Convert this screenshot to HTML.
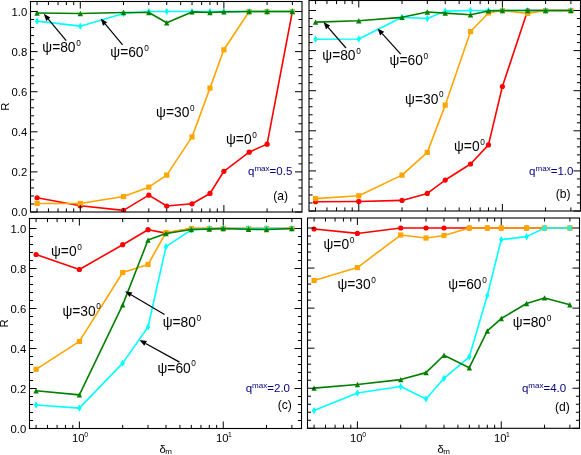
<!DOCTYPE html>
<html><head><meta charset="utf-8"><title>R vs delta_m</title>
<style>
html,body{margin:0;padding:0;background:#fff;}
body{width:581px;height:455px;overflow:hidden;}
svg{display:block;font-family:"Liberation Sans",sans-serif;will-change:transform;}

</style></head><body>
<svg width="581" height="455" viewBox="0 0 581 455">
<defs><clipPath id="clipa"><rect x="30.5" y="1.5" width="271.5" height="210.5"/></clipPath><clipPath id="clipb"><rect x="309" y="0.5" width="271.5" height="210.5"/></clipPath><clipPath id="clipc"><rect x="29.5" y="218.5" width="272" height="210"/></clipPath><clipPath id="clipd"><rect x="307.5" y="218" width="272" height="210.3"/></clipPath></defs>
<rect width="581" height="455" fill="#fff"/>
<g clip-path="url(#clipa)">
<polyline fill="none" stroke="#ff0000" stroke-width="1.6" stroke-linejoin="round" points="37.07,197.77 80.29,205.79 123.52,210.4 148.8,195.16 166.74,205.99 192.03,203.78 209.96,193.46 223.88,171.3 249.16,152.16 267.1,144.14 292.39,11.52"/>
<circle cx="37.07" cy="197.77" r="2.6" fill="#ff0000"/>
<circle cx="80.29" cy="205.79" r="2.6" fill="#ff0000"/>
<circle cx="123.52" cy="210.4" r="2.6" fill="#ff0000"/>
<circle cx="148.8" cy="195.16" r="2.6" fill="#ff0000"/>
<circle cx="166.74" cy="205.99" r="2.6" fill="#ff0000"/>
<circle cx="192.03" cy="203.78" r="2.6" fill="#ff0000"/>
<circle cx="209.96" cy="193.46" r="2.6" fill="#ff0000"/>
<circle cx="223.88" cy="171.3" r="2.6" fill="#ff0000"/>
<circle cx="249.16" cy="152.16" r="2.6" fill="#ff0000"/>
<circle cx="267.1" cy="144.14" r="2.6" fill="#ff0000"/>
<circle cx="292.39" cy="11.52" r="2.6" fill="#ff0000"/>
<polyline fill="none" stroke="#ffa500" stroke-width="1.6" stroke-linejoin="round" points="37.07,203.48 80.29,203.48 123.52,196.56 148.8,187.14 166.74,175.11 192.03,136.92 209.96,88.11 223.88,49.81 249.16,11.52 267.1,11.52 292.39,11.52"/>
<rect x="34.47" y="200.88" width="5.2" height="5.2" fill="#ffa500"/>
<rect x="77.69" y="200.88" width="5.2" height="5.2" fill="#ffa500"/>
<rect x="120.92" y="193.96" width="5.2" height="5.2" fill="#ffa500"/>
<rect x="146.2" y="184.54" width="5.2" height="5.2" fill="#ffa500"/>
<rect x="164.14" y="172.51" width="5.2" height="5.2" fill="#ffa500"/>
<rect x="189.43" y="134.32" width="5.2" height="5.2" fill="#ffa500"/>
<rect x="207.36" y="85.51" width="5.2" height="5.2" fill="#ffa500"/>
<rect x="221.28" y="47.21" width="5.2" height="5.2" fill="#ffa500"/>
<rect x="246.56" y="8.92" width="5.2" height="5.2" fill="#ffa500"/>
<rect x="264.5" y="8.92" width="5.2" height="5.2" fill="#ffa500"/>
<rect x="289.79" y="8.92" width="5.2" height="5.2" fill="#ffa500"/>
<polyline fill="none" stroke="#00ffff" stroke-width="1.6" stroke-linejoin="round" points="37.07,21.15 80.29,26.16 123.52,13.53 148.8,11.52 166.74,11.52 192.03,11.52 209.96,11.52 223.88,11.52 249.16,11.52 267.1,11.52 292.39,11.52"/>
<polygon fill="#00ffff" points="37.07,17.55 39.27,21.15 37.07,24.75 34.87,21.15"/>
<polygon fill="#00ffff" points="80.29,22.56 82.49,26.16 80.29,29.76 78.09,26.16"/>
<polygon fill="#00ffff" points="123.52,9.93 125.72,13.53 123.52,17.13 121.32,13.53"/>
<polygon fill="#00ffff" points="148.8,7.92 151,11.52 148.8,15.12 146.6,11.52"/>
<polygon fill="#00ffff" points="166.74,7.92 168.94,11.52 166.74,15.12 164.54,11.52"/>
<polygon fill="#00ffff" points="192.03,7.92 194.23,11.52 192.03,15.12 189.83,11.52"/>
<polygon fill="#00ffff" points="209.96,7.92 212.16,11.52 209.96,15.12 207.76,11.52"/>
<polygon fill="#00ffff" points="223.88,7.92 226.08,11.52 223.88,15.12 221.68,11.52"/>
<polygon fill="#00ffff" points="249.16,7.92 251.36,11.52 249.16,15.12 246.96,11.52"/>
<polygon fill="#00ffff" points="267.1,7.92 269.3,11.52 267.1,15.12 264.9,11.52"/>
<polygon fill="#00ffff" points="292.39,7.92 294.59,11.52 292.39,15.12 290.19,11.52"/>
<polyline fill="none" stroke="#008000" stroke-width="1.6" stroke-linejoin="round" points="37.07,12.93 80.29,13.53 123.52,12.43 148.8,12.53 166.74,22.75 192.03,11.92 209.96,12.43 223.88,11.92 249.16,11.52 267.1,11.52 292.39,11.52"/>
<polygon fill="#008000" points="37.07,10.23 39.77,15.63 34.37,15.63"/>
<polygon fill="#008000" points="80.29,10.83 82.99,16.23 77.59,16.23"/>
<polygon fill="#008000" points="123.52,9.73 126.22,15.13 120.82,15.13"/>
<polygon fill="#008000" points="148.8,9.83 151.5,15.23 146.1,15.23"/>
<polygon fill="#008000" points="166.74,20.05 169.44,25.45 164.04,25.45"/>
<polygon fill="#008000" points="192.03,9.22 194.73,14.62 189.33,14.62"/>
<polygon fill="#008000" points="209.96,9.73 212.66,15.13 207.26,15.13"/>
<polygon fill="#008000" points="223.88,9.22 226.58,14.62 221.18,14.62"/>
<polygon fill="#008000" points="249.16,8.82 251.86,14.22 246.46,14.22"/>
<polygon fill="#008000" points="267.1,8.82 269.8,14.22 264.4,14.22"/>
<polygon fill="#008000" points="292.39,8.82 295.09,14.22 289.69,14.22"/>
</g>
<path d="M30.5,212h7M302,212h-7M30.5,203.98h3.6M302,203.98h-3.6M30.5,195.96h3.6M302,195.96h-3.6M30.5,187.94h3.6M302,187.94h-3.6M30.5,179.92h3.6M302,179.92h-3.6M30.5,171.9h7M302,171.9h-7M30.5,163.89h3.6M302,163.89h-3.6M30.5,155.87h3.6M302,155.87h-3.6M30.5,147.85h3.6M302,147.85h-3.6M30.5,139.83h3.6M302,139.83h-3.6M30.5,131.81h7M302,131.81h-7M30.5,123.79h3.6M302,123.79h-3.6M30.5,115.77h3.6M302,115.77h-3.6M30.5,107.75h3.6M302,107.75h-3.6M30.5,99.73h3.6M302,99.73h-3.6M30.5,91.71h7M302,91.71h-7M30.5,83.7h3.6M302,83.7h-3.6M30.5,75.68h3.6M302,75.68h-3.6M30.5,67.66h3.6M302,67.66h-3.6M30.5,59.64h3.6M302,59.64h-3.6M30.5,51.62h7M302,51.62h-7M30.5,43.6h3.6M302,43.6h-3.6M30.5,35.58h3.6M302,35.58h-3.6M30.5,27.56h3.6M302,27.56h-3.6M30.5,19.54h3.6M302,19.54h-3.6M30.5,11.52h7M302,11.52h-7M80.29,212v-7M80.29,1.5v7M223.88,212v-7M223.88,1.5v7M37.07,212v-3.6M37.07,1.5v3.6M48.44,212v-3.6M48.44,1.5v3.6M58.05,212v-3.6M58.05,1.5v3.6M66.38,212v-3.6M66.38,1.5v3.6M73.72,212v-3.6M73.72,1.5v3.6M123.52,212v-3.6M123.52,1.5v3.6M148.8,212v-3.6M148.8,1.5v3.6M166.74,212v-3.6M166.74,1.5v3.6M180.66,212v-3.6M180.66,1.5v3.6M192.03,212v-3.6M192.03,1.5v3.6M201.64,212v-3.6M201.64,1.5v3.6M209.96,212v-3.6M209.96,1.5v3.6M217.31,212v-3.6M217.31,1.5v3.6M267.1,212v-3.6M267.1,1.5v3.6M292.39,212v-3.6M292.39,1.5v3.6" stroke="#000" stroke-width="1" fill="none"/>
<rect x="30.5" y="1.5" width="271.5" height="210.5" fill="none" stroke="#000" stroke-width="1.1"/>
<text x="27.2" y="216.05" font-size="11.3" text-anchor="end">0.0</text>
<text x="27.2" y="175.95" font-size="11.3" text-anchor="end">0.2</text>
<text x="27.2" y="135.86" font-size="11.3" text-anchor="end">0.4</text>
<text x="27.2" y="95.76" font-size="11.3" text-anchor="end">0.6</text>
<text x="27.2" y="55.67" font-size="11.3" text-anchor="end">0.8</text>
<text x="27.2" y="15.57" font-size="11.3" text-anchor="end">1.0</text>
<text transform="translate(8.8,106.75) rotate(-90)" font-size="11.3" text-anchor="middle">R</text>
<line x1="66.2" y1="40.6" x2="48.29" y2="19.17" stroke="#000" stroke-width="1.2"/>
<polygon points="43.8,13.8 50.36,17.44 46.22,20.9" fill="#000"/>
<line x1="122.6" y1="44.8" x2="105.1" y2="23.96" stroke="#000" stroke-width="1.2"/>
<polygon points="100.6,18.6 107.17,22.22 103.03,25.7" fill="#000"/>
<text x="42.3" y="52.1" font-size="13.8" fill="#000">ψ=80<tspan dx="0.6" dy="-6.4" font-size="8.28">0</tspan></text>
<text x="110.3" y="57.3" font-size="13.8" fill="#000">ψ=60<tspan dx="0.6" dy="-6.4" font-size="8.28">0</tspan></text>
<text x="156.1" y="116.9" font-size="13.8" fill="#000">ψ=30<tspan dx="0.6" dy="-6.4" font-size="8.28">0</tspan></text>
<text x="226" y="144.2" font-size="13.8" fill="#000">ψ=0<tspan dx="0.6" dy="-6.4" font-size="8.28">0</tspan></text>
<text x="248" y="175.4" font-size="11.5" fill="#000080">q<tspan dy="-4.2" font-size="8.05">max</tspan><tspan dy="4.2" font-size="11.5">=0.5</tspan></text>
<text x="273.3" y="199.8" font-size="12.1">(a)</text>
<g clip-path="url(#clipb)">
<polyline fill="none" stroke="#ff0000" stroke-width="1.6" stroke-linejoin="round" points="315.57,201.7 358.79,201.46 402.02,200.41 427.3,193.44 445.24,180.03 470.53,164.01 488.46,144.9 502.38,86.5 527.66,10.52 545.6,10.52 570.89,10.52"/>
<circle cx="315.57" cy="201.7" r="2.6" fill="#ff0000"/>
<circle cx="358.79" cy="201.46" r="2.6" fill="#ff0000"/>
<circle cx="402.02" cy="200.41" r="2.6" fill="#ff0000"/>
<circle cx="427.3" cy="193.44" r="2.6" fill="#ff0000"/>
<circle cx="445.24" cy="180.03" r="2.6" fill="#ff0000"/>
<circle cx="470.53" cy="164.01" r="2.6" fill="#ff0000"/>
<circle cx="488.46" cy="144.9" r="2.6" fill="#ff0000"/>
<circle cx="502.38" cy="86.5" r="2.6" fill="#ff0000"/>
<circle cx="527.66" cy="10.52" r="2.6" fill="#ff0000"/>
<circle cx="545.6" cy="10.52" r="2.6" fill="#ff0000"/>
<circle cx="570.89" cy="10.52" r="2.6" fill="#ff0000"/>
<polyline fill="none" stroke="#ffa500" stroke-width="1.6" stroke-linejoin="round" points="315.57,198.61 358.79,195.76 402.02,175.11 427.3,152.4 445.24,105.15 470.53,31.57 488.46,12.93 502.38,10.52 527.66,13.43 545.6,10.52 570.89,10.52"/>
<rect x="312.97" y="196.01" width="5.2" height="5.2" fill="#ffa500"/>
<rect x="356.19" y="193.16" width="5.2" height="5.2" fill="#ffa500"/>
<rect x="399.42" y="172.51" width="5.2" height="5.2" fill="#ffa500"/>
<rect x="424.7" y="149.8" width="5.2" height="5.2" fill="#ffa500"/>
<rect x="442.64" y="102.55" width="5.2" height="5.2" fill="#ffa500"/>
<rect x="467.93" y="28.97" width="5.2" height="5.2" fill="#ffa500"/>
<rect x="485.86" y="10.33" width="5.2" height="5.2" fill="#ffa500"/>
<rect x="499.78" y="7.92" width="5.2" height="5.2" fill="#ffa500"/>
<rect x="525.06" y="10.83" width="5.2" height="5.2" fill="#ffa500"/>
<rect x="543" y="7.92" width="5.2" height="5.2" fill="#ffa500"/>
<rect x="568.29" y="7.92" width="5.2" height="5.2" fill="#ffa500"/>
<polyline fill="none" stroke="#00ffff" stroke-width="1.6" stroke-linejoin="round" points="315.57,39.19 358.79,38.99 402.02,17.34 427.3,18.54 445.24,11.13 470.53,10.52 488.46,10.52 502.38,10.52 527.66,10.52 545.6,10.52 570.89,10.52"/>
<polygon fill="#00ffff" points="315.57,35.59 317.77,39.19 315.57,42.79 313.37,39.19"/>
<polygon fill="#00ffff" points="358.79,35.39 360.99,38.99 358.79,42.59 356.59,38.99"/>
<polygon fill="#00ffff" points="402.02,13.74 404.22,17.34 402.02,20.94 399.82,17.34"/>
<polygon fill="#00ffff" points="427.3,14.94 429.5,18.54 427.3,22.14 425.1,18.54"/>
<polygon fill="#00ffff" points="445.24,7.53 447.44,11.13 445.24,14.73 443.04,11.13"/>
<polygon fill="#00ffff" points="470.53,6.92 472.73,10.52 470.53,14.12 468.33,10.52"/>
<polygon fill="#00ffff" points="488.46,6.92 490.66,10.52 488.46,14.12 486.26,10.52"/>
<polygon fill="#00ffff" points="502.38,6.92 504.58,10.52 502.38,14.12 500.18,10.52"/>
<polygon fill="#00ffff" points="527.66,6.92 529.86,10.52 527.66,14.12 525.46,10.52"/>
<polygon fill="#00ffff" points="545.6,6.92 547.8,10.52 545.6,14.12 543.4,10.52"/>
<polygon fill="#00ffff" points="570.89,6.92 573.09,10.52 570.89,14.12 568.69,10.52"/>
<polyline fill="none" stroke="#008000" stroke-width="1.6" stroke-linejoin="round" points="315.57,22.15 358.79,20.75 402.02,17.34 427.3,11.93 445.24,13.13 470.53,14.73 488.46,10.92 502.38,10.52 527.66,10.52 545.6,10.52 570.89,10.52"/>
<polygon fill="#008000" points="315.57,19.45 318.27,24.85 312.87,24.85"/>
<polygon fill="#008000" points="358.79,18.05 361.49,23.45 356.09,23.45"/>
<polygon fill="#008000" points="402.02,14.64 404.72,20.04 399.32,20.04"/>
<polygon fill="#008000" points="427.3,9.23 430,14.63 424.6,14.63"/>
<polygon fill="#008000" points="445.24,10.43 447.94,15.83 442.54,15.83"/>
<polygon fill="#008000" points="470.53,12.03 473.23,17.43 467.83,17.43"/>
<polygon fill="#008000" points="488.46,8.22 491.16,13.62 485.76,13.62"/>
<polygon fill="#008000" points="502.38,7.82 505.08,13.22 499.68,13.22"/>
<polygon fill="#008000" points="527.66,7.82 530.36,13.22 524.96,13.22"/>
<polygon fill="#008000" points="545.6,7.82 548.3,13.22 542.9,13.22"/>
<polygon fill="#008000" points="570.89,7.82 573.59,13.22 568.19,13.22"/>
</g>
<path d="M309,211h7M580.5,211h-7M309,202.98h3.6M580.5,202.98h-3.6M309,194.96h3.6M580.5,194.96h-3.6M309,186.94h3.6M580.5,186.94h-3.6M309,178.92h3.6M580.5,178.92h-3.6M309,170.9h7M580.5,170.9h-7M309,162.89h3.6M580.5,162.89h-3.6M309,154.87h3.6M580.5,154.87h-3.6M309,146.85h3.6M580.5,146.85h-3.6M309,138.83h3.6M580.5,138.83h-3.6M309,130.81h7M580.5,130.81h-7M309,122.79h3.6M580.5,122.79h-3.6M309,114.77h3.6M580.5,114.77h-3.6M309,106.75h3.6M580.5,106.75h-3.6M309,98.73h3.6M580.5,98.73h-3.6M309,90.71h7M580.5,90.71h-7M309,82.7h3.6M580.5,82.7h-3.6M309,74.68h3.6M580.5,74.68h-3.6M309,66.66h3.6M580.5,66.66h-3.6M309,58.64h3.6M580.5,58.64h-3.6M309,50.62h7M580.5,50.62h-7M309,42.6h3.6M580.5,42.6h-3.6M309,34.58h3.6M580.5,34.58h-3.6M309,26.56h3.6M580.5,26.56h-3.6M309,18.54h3.6M580.5,18.54h-3.6M309,10.52h7M580.5,10.52h-7M358.79,211v-7M358.79,0.5v7M502.38,211v-7M502.38,0.5v7M315.57,211v-3.6M315.57,0.5v3.6M326.94,211v-3.6M326.94,0.5v3.6M336.55,211v-3.6M336.55,0.5v3.6M344.88,211v-3.6M344.88,0.5v3.6M352.22,211v-3.6M352.22,0.5v3.6M402.02,211v-3.6M402.02,0.5v3.6M427.3,211v-3.6M427.3,0.5v3.6M445.24,211v-3.6M445.24,0.5v3.6M459.16,211v-3.6M459.16,0.5v3.6M470.53,211v-3.6M470.53,0.5v3.6M480.14,211v-3.6M480.14,0.5v3.6M488.46,211v-3.6M488.46,0.5v3.6M495.81,211v-3.6M495.81,0.5v3.6M545.6,211v-3.6M545.6,0.5v3.6M570.89,211v-3.6M570.89,0.5v3.6" stroke="#000" stroke-width="1" fill="none"/>
<rect x="309" y="0.5" width="271.5" height="210.5" fill="none" stroke="#000" stroke-width="1.1"/>
<line x1="346" y1="48" x2="328.09" y2="27.38" stroke="#000" stroke-width="1.2"/>
<polygon points="323.5,22.1 330.13,25.61 326.05,29.16" fill="#000"/>
<line x1="400.7" y1="54.2" x2="382.18" y2="33.61" stroke="#000" stroke-width="1.2"/>
<polygon points="377.5,28.4 384.19,31.8 380.17,35.41" fill="#000"/>
<text x="322.3" y="60.4" font-size="13.8" fill="#000">ψ=80<tspan dx="0.6" dy="-6.4" font-size="8.28">0</tspan></text>
<text x="389.6" y="65.1" font-size="13.8" fill="#000">ψ=60<tspan dx="0.6" dy="-6.4" font-size="8.28">0</tspan></text>
<text x="405.1" y="103.5" font-size="13.8" fill="#000">ψ=30<tspan dx="0.6" dy="-6.4" font-size="8.28">0</tspan></text>
<text x="454" y="151.1" font-size="13.8" fill="#000">ψ=0<tspan dx="0.6" dy="-6.4" font-size="8.28">0</tspan></text>
<text x="529.1" y="175.4" font-size="11.5" fill="#000080">q<tspan dy="-4.2" font-size="8.05">max</tspan><tspan dy="4.2" font-size="11.5">=1.0</tspan></text>
<text x="555.7" y="197.9" font-size="12.1">(b)</text>
<g clip-path="url(#clipc)">
<polyline fill="none" stroke="#ff0000" stroke-width="1.6" stroke-linejoin="round" points="36.08,254.5 79.39,269.5 122.69,244.7 148.02,229.7 165.99,233.1 191.32,228.5 209.3,228.5 223.24,228.5 248.57,228.5 266.54,228.5 291.87,228.5"/>
<circle cx="36.08" cy="254.5" r="2.6" fill="#ff0000"/>
<circle cx="79.39" cy="269.5" r="2.6" fill="#ff0000"/>
<circle cx="122.69" cy="244.7" r="2.6" fill="#ff0000"/>
<circle cx="148.02" cy="229.7" r="2.6" fill="#ff0000"/>
<circle cx="165.99" cy="233.1" r="2.6" fill="#ff0000"/>
<circle cx="191.32" cy="228.5" r="2.6" fill="#ff0000"/>
<circle cx="209.3" cy="228.5" r="2.6" fill="#ff0000"/>
<circle cx="223.24" cy="228.5" r="2.6" fill="#ff0000"/>
<circle cx="248.57" cy="228.5" r="2.6" fill="#ff0000"/>
<circle cx="266.54" cy="228.5" r="2.6" fill="#ff0000"/>
<circle cx="291.87" cy="228.5" r="2.6" fill="#ff0000"/>
<polyline fill="none" stroke="#ffa500" stroke-width="1.6" stroke-linejoin="round" points="36.08,369.3 79.39,341.44 122.69,272.5 148.02,264.5 165.99,232.5 191.32,228.5 209.3,228.5 223.24,228.5 248.57,228.5 266.54,228.5 291.87,228.5"/>
<rect x="33.48" y="366.7" width="5.2" height="5.2" fill="#ffa500"/>
<rect x="76.79" y="338.84" width="5.2" height="5.2" fill="#ffa500"/>
<rect x="120.09" y="269.9" width="5.2" height="5.2" fill="#ffa500"/>
<rect x="145.42" y="261.9" width="5.2" height="5.2" fill="#ffa500"/>
<rect x="163.39" y="229.9" width="5.2" height="5.2" fill="#ffa500"/>
<rect x="188.72" y="225.9" width="5.2" height="5.2" fill="#ffa500"/>
<rect x="206.7" y="225.9" width="5.2" height="5.2" fill="#ffa500"/>
<rect x="220.64" y="225.9" width="5.2" height="5.2" fill="#ffa500"/>
<rect x="245.97" y="225.9" width="5.2" height="5.2" fill="#ffa500"/>
<rect x="263.94" y="225.9" width="5.2" height="5.2" fill="#ffa500"/>
<rect x="289.27" y="225.9" width="5.2" height="5.2" fill="#ffa500"/>
<polyline fill="none" stroke="#00ffff" stroke-width="1.6" stroke-linejoin="round" points="36.08,404.96 79.39,408.1 122.69,363.14 148.02,326.98 165.99,246.7 191.32,229.9 209.3,228.5 223.24,228.5 248.57,228.5 266.54,228.5 291.87,228.5"/>
<polygon fill="#00ffff" points="36.08,401.36 38.28,404.96 36.08,408.56 33.88,404.96"/>
<polygon fill="#00ffff" points="79.39,404.5 81.59,408.1 79.39,411.7 77.19,408.1"/>
<polygon fill="#00ffff" points="122.69,359.54 124.89,363.14 122.69,366.74 120.49,363.14"/>
<polygon fill="#00ffff" points="148.02,323.38 150.22,326.98 148.02,330.58 145.82,326.98"/>
<polygon fill="#00ffff" points="165.99,243.1 168.19,246.7 165.99,250.3 163.79,246.7"/>
<polygon fill="#00ffff" points="191.32,226.3 193.52,229.9 191.32,233.5 189.12,229.9"/>
<polygon fill="#00ffff" points="209.3,224.9 211.5,228.5 209.3,232.1 207.1,228.5"/>
<polygon fill="#00ffff" points="223.24,224.9 225.44,228.5 223.24,232.1 221.04,228.5"/>
<polygon fill="#00ffff" points="248.57,224.9 250.77,228.5 248.57,232.1 246.37,228.5"/>
<polygon fill="#00ffff" points="266.54,224.9 268.74,228.5 266.54,232.1 264.34,228.5"/>
<polygon fill="#00ffff" points="291.87,224.9 294.07,228.5 291.87,232.1 289.67,228.5"/>
<polyline fill="none" stroke="#008000" stroke-width="1.6" stroke-linejoin="round" points="36.08,390.76 79.39,394.9 122.69,304.9 148.02,240.1 165.99,233.5 191.32,229.5 209.3,229.1 223.24,228.5 248.57,229.3 266.54,229.5 291.87,228.5"/>
<polygon fill="#008000" points="36.08,388.06 38.78,393.46 33.38,393.46"/>
<polygon fill="#008000" points="79.39,392.2 82.09,397.6 76.69,397.6"/>
<polygon fill="#008000" points="122.69,302.2 125.39,307.6 119.99,307.6"/>
<polygon fill="#008000" points="148.02,237.4 150.72,242.8 145.32,242.8"/>
<polygon fill="#008000" points="165.99,230.8 168.69,236.2 163.29,236.2"/>
<polygon fill="#008000" points="191.32,226.8 194.02,232.2 188.62,232.2"/>
<polygon fill="#008000" points="209.3,226.4 212,231.8 206.6,231.8"/>
<polygon fill="#008000" points="223.24,225.8 225.94,231.2 220.54,231.2"/>
<polygon fill="#008000" points="248.57,226.6 251.27,232 245.87,232"/>
<polygon fill="#008000" points="266.54,226.8 269.24,232.2 263.84,232.2"/>
<polygon fill="#008000" points="291.87,225.8 294.57,231.2 289.17,231.2"/>
</g>
<path d="M29.5,428.5h7M301.5,428.5h-7M29.5,420.5h3.6M301.5,420.5h-3.6M29.5,412.5h3.6M301.5,412.5h-3.6M29.5,404.5h3.6M301.5,404.5h-3.6M29.5,396.5h3.6M301.5,396.5h-3.6M29.5,388.5h7M301.5,388.5h-7M29.5,380.5h3.6M301.5,380.5h-3.6M29.5,372.5h3.6M301.5,372.5h-3.6M29.5,364.5h3.6M301.5,364.5h-3.6M29.5,356.5h3.6M301.5,356.5h-3.6M29.5,348.5h7M301.5,348.5h-7M29.5,340.5h3.6M301.5,340.5h-3.6M29.5,332.5h3.6M301.5,332.5h-3.6M29.5,324.5h3.6M301.5,324.5h-3.6M29.5,316.5h3.6M301.5,316.5h-3.6M29.5,308.5h7M301.5,308.5h-7M29.5,300.5h3.6M301.5,300.5h-3.6M29.5,292.5h3.6M301.5,292.5h-3.6M29.5,284.5h3.6M301.5,284.5h-3.6M29.5,276.5h3.6M301.5,276.5h-3.6M29.5,268.5h7M301.5,268.5h-7M29.5,260.5h3.6M301.5,260.5h-3.6M29.5,252.5h3.6M301.5,252.5h-3.6M29.5,244.5h3.6M301.5,244.5h-3.6M29.5,236.5h3.6M301.5,236.5h-3.6M29.5,228.5h7M301.5,228.5h-7M79.39,428.5v-7M79.39,218.5v7M223.24,428.5v-7M223.24,218.5v7M36.08,428.5v-3.6M36.08,218.5v3.6M47.47,428.5v-3.6M47.47,218.5v3.6M57.1,428.5v-3.6M57.1,218.5v3.6M65.44,428.5v-3.6M65.44,218.5v3.6M72.8,428.5v-3.6M72.8,218.5v3.6M122.69,428.5v-3.6M122.69,218.5v3.6M148.02,428.5v-3.6M148.02,218.5v3.6M165.99,428.5v-3.6M165.99,218.5v3.6M179.93,428.5v-3.6M179.93,218.5v3.6M191.32,428.5v-3.6M191.32,218.5v3.6M200.95,428.5v-3.6M200.95,218.5v3.6M209.3,428.5v-3.6M209.3,218.5v3.6M216.65,428.5v-3.6M216.65,218.5v3.6M266.54,428.5v-3.6M266.54,218.5v3.6M291.87,428.5v-3.6M291.87,218.5v3.6" stroke="#000" stroke-width="1" fill="none"/>
<rect x="29.5" y="218.5" width="272" height="210" fill="none" stroke="#000" stroke-width="1.1"/>
<text x="26.2" y="432.55" font-size="11.3" text-anchor="end">0.0</text>
<text x="26.2" y="392.55" font-size="11.3" text-anchor="end">0.2</text>
<text x="26.2" y="352.55" font-size="11.3" text-anchor="end">0.4</text>
<text x="26.2" y="312.55" font-size="11.3" text-anchor="end">0.6</text>
<text x="26.2" y="272.55" font-size="11.3" text-anchor="end">0.8</text>
<text x="26.2" y="232.55" font-size="11.3" text-anchor="end">1.0</text>
<text transform="translate(7.8,323.5) rotate(-90)" font-size="11.3" text-anchor="middle">R</text>
<text x="72.09" y="441.7" font-size="11.3">10<tspan dx="-0.5" dy="-4.4" font-size="6.8">0</tspan></text>
<text x="215.94" y="441.7" font-size="11.3">10<tspan dx="-0.5" dy="-4.4" font-size="6.8">1</tspan></text>
<text x="159.5" y="452.9" font-size="11.3">δ<tspan dx="-0.6" dy="1.5" font-size="8">m</tspan></text>
<line x1="164.5" y1="314.4" x2="131.04" y2="294.75" stroke="#000" stroke-width="1.2"/>
<polygon points="125,291.2 132.4,292.42 129.67,297.07" fill="#000"/>
<line x1="179.5" y1="362.1" x2="145.63" y2="343.47" stroke="#000" stroke-width="1.2"/>
<polygon points="139.5,340.1 146.93,341.11 144.33,345.84" fill="#000"/>
<text x="51" y="256.1" font-size="13.8" fill="#000">ψ=0<tspan dx="0.6" dy="-6.4" font-size="8.28">0</tspan></text>
<text x="62.4" y="315.7" font-size="13.8" fill="#000">ψ=30<tspan dx="0.6" dy="-6.4" font-size="8.28">0</tspan></text>
<text x="162.7" y="327.2" font-size="13.8" fill="#000">ψ=80<tspan dx="0.6" dy="-6.4" font-size="8.28">0</tspan></text>
<text x="157.5" y="372.5" font-size="13.8" fill="#000">ψ=60<tspan dx="0.6" dy="-6.4" font-size="8.28">0</tspan></text>
<text x="245.7" y="392.3" font-size="11.5" fill="#000080">q<tspan dy="-4.2" font-size="8.05">max</tspan><tspan dy="4.2" font-size="11.5">=2.0</tspan></text>
<text x="277.7" y="409.4" font-size="12.1">(c)</text>
<g clip-path="url(#clipd)">
<polyline fill="none" stroke="#ff0000" stroke-width="1.6" stroke-linejoin="round" points="314.08,229.02 357.39,233.42 400.69,228.01 426.02,228.01 443.99,228.01 469.32,228.01 487.3,228.01 501.24,228.01 526.57,228.01 544.54,228.01 569.87,228.01"/>
<circle cx="314.08" cy="229.02" r="2.6" fill="#ff0000"/>
<circle cx="357.39" cy="233.42" r="2.6" fill="#ff0000"/>
<circle cx="400.69" cy="228.01" r="2.6" fill="#ff0000"/>
<circle cx="426.02" cy="228.01" r="2.6" fill="#ff0000"/>
<circle cx="443.99" cy="228.01" r="2.6" fill="#ff0000"/>
<circle cx="469.32" cy="228.01" r="2.6" fill="#ff0000"/>
<circle cx="487.3" cy="228.01" r="2.6" fill="#ff0000"/>
<circle cx="501.24" cy="228.01" r="2.6" fill="#ff0000"/>
<circle cx="526.57" cy="228.01" r="2.6" fill="#ff0000"/>
<circle cx="544.54" cy="228.01" r="2.6" fill="#ff0000"/>
<circle cx="569.87" cy="228.01" r="2.6" fill="#ff0000"/>
<polyline fill="none" stroke="#ffa500" stroke-width="1.6" stroke-linejoin="round" points="314.08,280.49 357.39,267.57 400.69,235.02 426.02,238.03 443.99,235.5 469.32,228.01 487.3,228.01 501.24,228.01 526.57,228.01 544.54,228.01 569.87,228.01"/>
<rect x="311.48" y="277.89" width="5.2" height="5.2" fill="#ffa500"/>
<rect x="354.79" y="264.97" width="5.2" height="5.2" fill="#ffa500"/>
<rect x="398.09" y="232.42" width="5.2" height="5.2" fill="#ffa500"/>
<rect x="423.42" y="235.43" width="5.2" height="5.2" fill="#ffa500"/>
<rect x="441.39" y="232.9" width="5.2" height="5.2" fill="#ffa500"/>
<rect x="466.72" y="225.41" width="5.2" height="5.2" fill="#ffa500"/>
<rect x="484.7" y="225.41" width="5.2" height="5.2" fill="#ffa500"/>
<rect x="498.64" y="225.41" width="5.2" height="5.2" fill="#ffa500"/>
<rect x="523.97" y="225.41" width="5.2" height="5.2" fill="#ffa500"/>
<rect x="541.94" y="225.41" width="5.2" height="5.2" fill="#ffa500"/>
<rect x="567.27" y="225.41" width="5.2" height="5.2" fill="#ffa500"/>
<polyline fill="none" stroke="#00ffff" stroke-width="1.6" stroke-linejoin="round" points="314.08,410.61 357.39,393.05 400.69,386.56 426.02,398.98 443.99,378.29 469.32,356.8 487.3,295.51 501.24,239.63 526.57,236.63 544.54,228.01 569.87,228.01"/>
<polygon fill="#00ffff" points="314.08,407.01 316.28,410.61 314.08,414.21 311.88,410.61"/>
<polygon fill="#00ffff" points="357.39,389.45 359.59,393.05 357.39,396.65 355.19,393.05"/>
<polygon fill="#00ffff" points="400.69,382.96 402.89,386.56 400.69,390.16 398.49,386.56"/>
<polygon fill="#00ffff" points="426.02,395.38 428.22,398.98 426.02,402.58 423.82,398.98"/>
<polygon fill="#00ffff" points="443.99,374.69 446.19,378.29 443.99,381.89 441.79,378.29"/>
<polygon fill="#00ffff" points="469.32,353.2 471.52,356.8 469.32,360.4 467.12,356.8"/>
<polygon fill="#00ffff" points="487.3,291.91 489.5,295.51 487.3,299.11 485.1,295.51"/>
<polygon fill="#00ffff" points="501.24,236.03 503.44,239.63 501.24,243.23 499.04,239.63"/>
<polygon fill="#00ffff" points="526.57,233.03 528.77,236.63 526.57,240.23 524.37,236.63"/>
<polygon fill="#00ffff" points="544.54,224.41 546.74,228.01 544.54,231.61 542.34,228.01"/>
<polygon fill="#00ffff" points="569.87,224.41 572.07,228.01 569.87,231.61 567.67,228.01"/>
<polyline fill="none" stroke="#008000" stroke-width="1.6" stroke-linejoin="round" points="314.08,388.12 357.39,384.5 400.69,379.59 426.02,372.62 443.99,355.28 469.32,367.69 487.3,330.96 501.24,318.54 526.57,303.52 544.54,297.91 569.87,304.72"/>
<polygon fill="#008000" points="314.08,385.42 316.78,390.82 311.38,390.82"/>
<polygon fill="#008000" points="357.39,381.8 360.09,387.2 354.69,387.2"/>
<polygon fill="#008000" points="400.69,376.89 403.39,382.29 397.99,382.29"/>
<polygon fill="#008000" points="426.02,369.92 428.72,375.32 423.32,375.32"/>
<polygon fill="#008000" points="443.99,352.58 446.69,357.98 441.29,357.98"/>
<polygon fill="#008000" points="469.32,364.99 472.02,370.39 466.62,370.39"/>
<polygon fill="#008000" points="487.3,328.26 490,333.66 484.6,333.66"/>
<polygon fill="#008000" points="501.24,315.84 503.94,321.24 498.54,321.24"/>
<polygon fill="#008000" points="526.57,300.82 529.27,306.22 523.87,306.22"/>
<polygon fill="#008000" points="544.54,295.21 547.24,300.61 541.84,300.61"/>
<polygon fill="#008000" points="569.87,302.02 572.57,307.42 567.17,307.42"/>
</g>
<path d="M307.5,428.3h7M579.5,428.3h-7M307.5,420.29h3.6M579.5,420.29h-3.6M307.5,412.28h3.6M579.5,412.28h-3.6M307.5,404.27h3.6M579.5,404.27h-3.6M307.5,396.25h3.6M579.5,396.25h-3.6M307.5,388.24h7M579.5,388.24h-7M307.5,380.23h3.6M579.5,380.23h-3.6M307.5,372.22h3.6M579.5,372.22h-3.6M307.5,364.21h3.6M579.5,364.21h-3.6M307.5,356.2h3.6M579.5,356.2h-3.6M307.5,348.19h7M579.5,348.19h-7M307.5,340.17h3.6M579.5,340.17h-3.6M307.5,332.16h3.6M579.5,332.16h-3.6M307.5,324.15h3.6M579.5,324.15h-3.6M307.5,316.14h3.6M579.5,316.14h-3.6M307.5,308.13h7M579.5,308.13h-7M307.5,300.12h3.6M579.5,300.12h-3.6M307.5,292.11h3.6M579.5,292.11h-3.6M307.5,284.09h3.6M579.5,284.09h-3.6M307.5,276.08h3.6M579.5,276.08h-3.6M307.5,268.07h7M579.5,268.07h-7M307.5,260.06h3.6M579.5,260.06h-3.6M307.5,252.05h3.6M579.5,252.05h-3.6M307.5,244.04h3.6M579.5,244.04h-3.6M307.5,236.03h3.6M579.5,236.03h-3.6M307.5,228.01h7M579.5,228.01h-7M357.39,428.3v-7M357.39,218v7M501.24,428.3v-7M501.24,218v7M314.08,428.3v-3.6M314.08,218v3.6M325.47,428.3v-3.6M325.47,218v3.6M335.1,428.3v-3.6M335.1,218v3.6M343.44,428.3v-3.6M343.44,218v3.6M350.8,428.3v-3.6M350.8,218v3.6M400.69,428.3v-3.6M400.69,218v3.6M426.02,428.3v-3.6M426.02,218v3.6M443.99,428.3v-3.6M443.99,218v3.6M457.93,428.3v-3.6M457.93,218v3.6M469.32,428.3v-3.6M469.32,218v3.6M478.95,428.3v-3.6M478.95,218v3.6M487.3,428.3v-3.6M487.3,218v3.6M494.65,428.3v-3.6M494.65,218v3.6M544.54,428.3v-3.6M544.54,218v3.6M569.87,428.3v-3.6M569.87,218v3.6" stroke="#000" stroke-width="1" fill="none"/>
<rect x="307.5" y="218" width="272" height="210.3" fill="none" stroke="#000" stroke-width="1.1"/>
<text x="350.09" y="441.5" font-size="11.3">10<tspan dx="-0.5" dy="-4.4" font-size="6.8">0</tspan></text>
<text x="493.94" y="441.5" font-size="11.3">10<tspan dx="-0.5" dy="-4.4" font-size="6.8">1</tspan></text>
<text x="437.5" y="452.7" font-size="11.3">δ<tspan dx="-0.6" dy="1.5" font-size="8">m</tspan></text>
<text x="323.5" y="248.9" font-size="13.8" fill="#000">ψ=0<tspan dx="0.6" dy="-6.4" font-size="8.28">0</tspan></text>
<text x="337.4" y="289.1" font-size="13.8" fill="#000">ψ=30<tspan dx="0.6" dy="-6.4" font-size="8.28">0</tspan></text>
<text x="448.3" y="289.1" font-size="13.8" fill="#000">ψ=60<tspan dx="0.6" dy="-6.4" font-size="8.28">0</tspan></text>
<text x="512.8" y="327" font-size="13.8" fill="#000">ψ=80<tspan dx="0.6" dy="-6.4" font-size="8.28">0</tspan></text>
<text x="521.9" y="391.8" font-size="11.5" fill="#000080">q<tspan dy="-4.2" font-size="8.05">max</tspan><tspan dy="4.2" font-size="11.5">=4.0</tspan></text>
<text x="554.9" y="410.8" font-size="12.1">(d)</text>
</svg>
</body></html>
